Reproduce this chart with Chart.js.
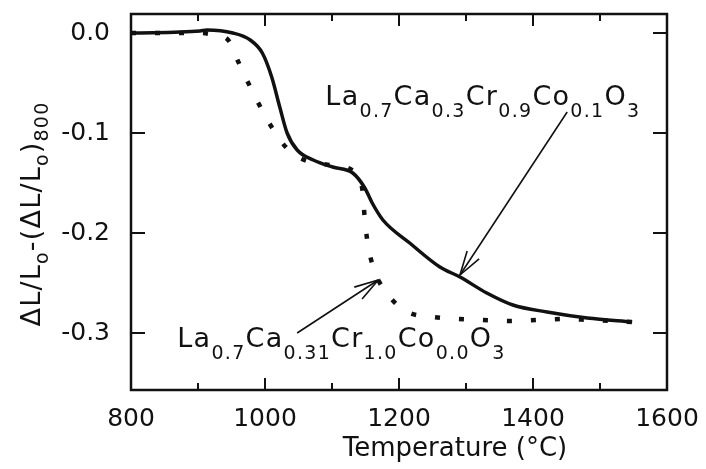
<!DOCTYPE html>
<html><head><meta charset="utf-8">
<script src="https://cdn.jsdelivr.net/npm/chart.js@4.4.1/dist/chart.umd.min.js"></script>
<style>html,body{margin:0;padding:0;background:#fff;}</style>
</head><body>
<canvas id="c" width="706" height="469"></canvas>
<script>
// ---- data ----
const tempSolid = [800, 903, 913, 952, 978, 996, 1010, 1022, 1033, 1048, 1072, 1101, 1131, 1149, 1160, 1176, 1216, 1261, 1291, 1331, 1370, 1421, 1481, 1548];
const dlSolid   = [0, 0.002, 0.003, 0.0, -0.007, -0.020, -0.044, -0.074, -0.100, -0.117, -0.127, -0.134, -0.140, -0.155, -0.170, -0.187, -0.210, -0.234, -0.244, -0.260, -0.272, -0.279, -0.285, -0.289];
const tempDotted = [800, 903, 925, 945, 961, 978, 990, 1009, 1031, 1052, 1097, 1134, 1146, 1149, 1154, 1163, 1184, 1213, 1251, 1288, 1325, 1369, 1407, 1445, 1485, 1519, 1548];
const dlDotted   = [0, 0, -0.002, -0.007, -0.030, -0.054, -0.070, -0.093, -0.114, -0.125, -0.132, -0.139, -0.160, -0.187, -0.213, -0.237, -0.262, -0.279, -0.284, -0.286, -0.287, -0.288, -0.287, -0.286, -0.287, -0.288, -0.289];
const xTickLabels = [800, 1000, 1200, 1400, 1600];
const xTickMarks = [900, 1000, 1100, 1200, 1300, 1400, 1500];
const yTickLabels = [-0.3, -0.2, -0.1, 0];
const labelSolid = [['La'],['0.7',1],['Ca'],['0.3',1],['Cr'],['0.9',1],['Co'],['0.1',1],['O'],['3',1]];
const labelDotted = [['La'],['0.7',1],['Ca'],['0.31',1],['Cr'],['1.0',1],['Co'],['0.0',1],['O'],['3',1]];
const yTitle = [['\u0394L/L'],['o',1],['-(\u0394L/L'],['o',1],[')'],['800',1]];
const xTitle = 'Temperature (\u00B0C)';
// annotation anchor points in data units: [labelX, labelY, arrowStartX, arrowStartY, arrowTipX, arrowTipY]
const annSolid = [1090, -0.072, 1451, -0.079, 1291, -0.242];
const annDotted = [869, -0.314, 1048, -0.300, 1169, -0.247];

const FONT = '"DejaVu Sans", "Liberation Sans", sans-serif';
const INK = '#111';

function drawRich(ctx, parts, x, y, main, sub, drop, sp) {
  let cx = x;
  for (const [t, s] of parts) {
    ctx.font = (s ? sub : main) + 'px ' + FONT;
    for (const ch of t) { ctx.fillText(ch, cx, y + (s ? drop : 0)); cx += ctx.measureText(ch).width + sp; }
  }
  return cx - x;
}
function richWidth(ctx, parts, main, sub, sp) {
  let w = 0;
  for (const [t, s] of parts) {
    ctx.font = (s ? sub : main) + 'px ' + FONT;
    for (const ch of t) w += ctx.measureText(ch).width + sp;
  }
  return w;
}
function arrow(ctx, x0, y0, x1, y1, len, ang) {
  ctx.beginPath(); ctx.moveTo(x0, y0); ctx.lineTo(x1, y1); ctx.stroke();
  const a = Math.atan2(y0 - y1, x0 - x1);
  ctx.beginPath();
  ctx.moveTo(x1 + len * Math.cos(a - ang), y1 + len * Math.sin(a - ang));
  ctx.lineTo(x1, y1);
  ctx.lineTo(x1 + len * Math.cos(a + ang), y1 + len * Math.sin(a + ang));
  ctx.stroke();
}

const decor = {
  id: 'decor',
  afterDatasetsDraw(chart) {
    const ctx = chart.ctx, a = chart.chartArea, xs = chart.scales.x, ys = chart.scales.y;
    ctx.save();
    ctx.strokeStyle = INK; ctx.fillStyle = INK;
    // frame
    ctx.lineWidth = 2.5;
    ctx.strokeRect(a.left, a.top, a.right - a.left, a.bottom - a.top);
    // inner ticks
    ctx.lineWidth = 2;
    for (const v of yTickLabels) {
      const py = ys.getPixelForValue(v);
      ctx.beginPath(); ctx.moveTo(a.left, py); ctx.lineTo(a.left + 14, py);
      ctx.moveTo(a.right, py); ctx.lineTo(a.right - 14, py); ctx.stroke();
    }
    for (const v of xTickMarks) {
      const px = xs.getPixelForValue(v);
      const len = (v % 200 === 0) ? 12 : 7;
      ctx.beginPath(); ctx.moveTo(px, a.bottom); ctx.lineTo(px, a.bottom - len);
      ctx.moveTo(px, a.top); ctx.lineTo(px, a.top + len); ctx.stroke();
    }
    // annotations
    ctx.textBaseline = 'alphabetic'; ctx.textAlign = 'left';
    ctx.lineWidth = 1.6;
    for (const ann of [annSolid, annDotted]) {
      arrow(ctx, xs.getPixelForValue(ann[2]), ys.getPixelForValue(ann[3]),
                 xs.getPixelForValue(ann[4]), ys.getPixelForValue(ann[5]), 25, 0.29);
    }
    drawRich(ctx, labelSolid, xs.getPixelForValue(annSolid[0]), ys.getPixelForValue(annSolid[1]), 27, 19, 12, 1.3);
    drawRich(ctx, labelDotted, xs.getPixelForValue(annDotted[0]), ys.getPixelForValue(annDotted[1]), 27, 19, 12, 1.3);
    // x title
    ctx.font = '26px ' + FONT; ctx.textAlign = 'center';
    ctx.fillText(xTitle, (a.left + a.right) / 2 + 56, 456);
    // y title (rotated)
    ctx.textAlign = 'left';
    ctx.save();
    ctx.translate(40, (a.top + a.bottom) / 2 + 12);
    ctx.rotate(-Math.PI / 2);
    const w = richWidth(ctx, yTitle, 27, 19, 1.2);
    drawRich(ctx, yTitle, -w / 2, 0, 27, 19, 8, 1.2);
    ctx.restore();
    ctx.restore();
  }
};

const pts = (xs, ys) => xs.map((x, i) => ({ x: x, y: ys[i] }));

new Chart(document.getElementById('c'), {
  type: 'line',
  data: {
    datasets: [
      { label: 'La0.7Ca0.3Cr0.9Co0.1O3', data: pts(tempSolid, dlSolid), borderColor: INK, borderWidth: 3.5,
        pointRadius: 0, fill: false, cubicInterpolationMode: 'monotone' },
      { label: 'La0.7Ca0.31Cr1.0Co0.0O3', data: pts(tempDotted, dlDotted), borderColor: INK, borderWidth: 4.5,
        borderDash: [5, 19], borderCapStyle: 'butt', pointRadius: 0, fill: false, cubicInterpolationMode: 'monotone' }
    ]
  },
  options: {
    responsive: false, animation: false, devicePixelRatio: 1,
    layout: { padding: { top: 14, right: 39, left: 0, bottom: 0 } },
    plugins: { legend: { display: false }, tooltip: { enabled: false } },
    scales: {
      x: {
        type: 'linear', min: 800, max: 1600,
        afterBuildTicks: s => { s.ticks = xTickLabels.map(v => ({ value: v })); },
        afterFit: s => { s.height = 79; s.paddingLeft = 0; s.paddingRight = 0; },
        grid: { display: false, drawTicks: false }, border: { display: false },
        ticks: { font: { family: FONT, size: 25 }, color: INK, padding: 14, maxRotation: 0, autoSkip: false,
                 callback: v => String(v) }
      },
      y: {
        type: 'linear', min: -0.357, max: 0.019,
        afterBuildTicks: s => { s.ticks = yTickLabels.map(v => ({ value: v })); },
        afterFit: s => { s.width = 131; s.paddingTop = 0; s.paddingBottom = 0; },
        grid: { display: false, drawTicks: false }, border: { display: false },
        ticks: { font: { family: FONT, size: 25 }, color: INK, padding: 21, callback: v => v.toFixed(1) }
      }
    }
  },
  plugins: [decor]
});
</script>
</body></html>
